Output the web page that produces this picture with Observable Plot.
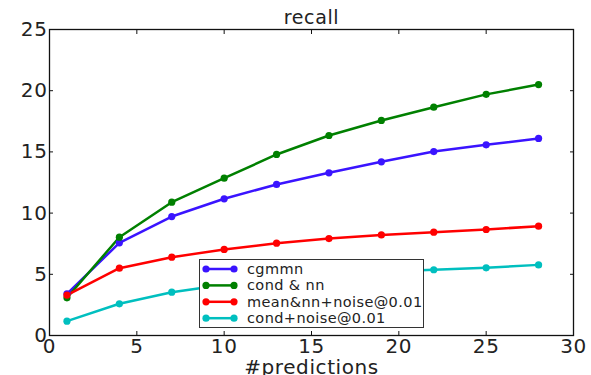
<!DOCTYPE html>
<html>
<head>
<meta charset="utf-8">
<script src="https://cdn.jsdelivr.net/npm/d3@7"></script>
<script src="https://cdn.jsdelivr.net/npm/@observablehq/plot@0.6"></script>
<style>
  html, body { margin: 0; padding: 0; background: #fff; overflow: hidden; }
  #wrap { position: relative; width: 591px; height: 375px; font-family: "DejaVu Sans", sans-serif; }
  #legend { position: absolute; left: 199px; top: 259px; width: 223px; height: 67px;
            border: 1.5px solid #333; background: #fff; }
  #legend svg { display: block; }
</style>
</head>
<body>
<div id="wrap"></div>
<script>
const predictions = [1, 4, 7, 10, 13, 16, 19, 22, 25, 28];
const cgmmn = [3.4, 7.57, 9.72, 11.17, 12.34, 13.29, 14.19, 15.03, 15.58, 16.1];
const condNN = [3.08, 8.03, 10.89, 12.85, 14.79, 16.34, 17.57, 18.65, 19.7, 20.5];
const meanNNNoise = [3.3, 5.5, 6.4, 7.03, 7.54, 7.92, 8.22, 8.44, 8.66, 8.93];
const condNoise = [1.17, 2.59, 3.54, 4.15, 4.6, 4.95, 5.2, 5.37, 5.53, 5.77];
const seriesNames = ["cgmmn", "cond & nn", "mean&nn+noise@0.01", "cond+noise@0.01"];
const seriesColors = ["#3a14ff", "#008000", "#ff0000", "#00bfbf"];
const xTicks = [0, 5, 10, 15, 20, 25, 30];
const yTicks = [0, 5, 10, 15, 20, 25];

const allSeries = [cgmmn, condNN, meanNNNoise, condNoise];
const data = [];
allSeries.forEach((vals, si) => {
  vals.forEach((v, i) => data.push({x: predictions[i], y: v, s: seriesNames[si]}));
});

const font = "DejaVu Sans, sans-serif";
const chart = Plot.plot({
  width: 591,
  height: 375,
  marginLeft: 49,
  marginRight: 18,
  marginTop: 29,
  marginBottom: 40,
  style: {fontFamily: font, fontSize: "20px", color: "#222", background: "#fff", overflow: "visible", letterSpacing: "0.6px"},
  x: {domain: [0, 30], ticks: xTicks},
  y: {domain: [0, 25], ticks: yTicks},
  color: {domain: seriesNames, range: seriesColors},
  marks: [
    Plot.axisX({anchor: "bottom", ticks: xTicks, tickSize: -4, tickPadding: 7, label: null, stroke: "#111"}),
    Plot.axisX({anchor: "top", ticks: xTicks, tickSize: -4, tickFormat: () => "", label: null, stroke: "#111"}),
    Plot.axisY({anchor: "left", ticks: yTicks, tickSize: -4, tickPadding: 6, label: null, stroke: "#111"}),
    Plot.axisY({anchor: "right", ticks: yTicks, tickSize: -4, tickFormat: () => "", label: null, stroke: "#111"}),
    Plot.frame({stroke: "#111", strokeWidth: 1.3}),
    Plot.line(data, {x: "x", y: "y", z: "s", stroke: "s", strokeWidth: 2.5}),
    Plot.dot(data, {x: "x", y: "y", fill: "s", r: 3.6}),
    Plot.text(["recall"], {frameAnchor: "top", dy: -6, lineAnchor: "bottom", fontSize: 19, fill: "#222"}),
    Plot.text(["#predictions"], {frameAnchor: "bottom", dy: 24, lineAnchor: "top", fontSize: 20, fill: "#222"})
  ]
});
const wrap = document.getElementById("wrap");
wrap.appendChild(chart);

// legend drawn inside the axes, matplotlib style
const legend = document.createElement("div");
legend.id = "legend";
const ns = "http://www.w3.org/2000/svg";
const svg = document.createElementNS(ns, "svg");
svg.setAttribute("width", 223);
svg.setAttribute("height", 67);
seriesNames.forEach((name, i) => {
  const cy = 9 + i * 16.4;
  const line = document.createElementNS(ns, "line");
  line.setAttribute("x1", 6); line.setAttribute("x2", 34);
  line.setAttribute("y1", cy); line.setAttribute("y2", cy);
  line.setAttribute("stroke", seriesColors[i]); line.setAttribute("stroke-width", 2.5);
  svg.appendChild(line);
  [6, 34].forEach(cx => {
    const c = document.createElementNS(ns, "circle");
    c.setAttribute("cx", cx); c.setAttribute("cy", cy); c.setAttribute("r", 3.6);
    c.setAttribute("fill", seriesColors[i]);
    svg.appendChild(c);
  });
  const t = document.createElementNS(ns, "text");
  t.setAttribute("x", 47); t.setAttribute("y", cy);
  t.setAttribute("dy", "0.35em");
  t.setAttribute("font-family", font);
  t.setAttribute("font-size", 14.5);
  t.setAttribute("letter-spacing", "0.4px");
  t.setAttribute("fill", "#222");
  t.textContent = name;
  svg.appendChild(t);
});
legend.appendChild(svg);
wrap.appendChild(legend);
</script>
</body>
</html>
